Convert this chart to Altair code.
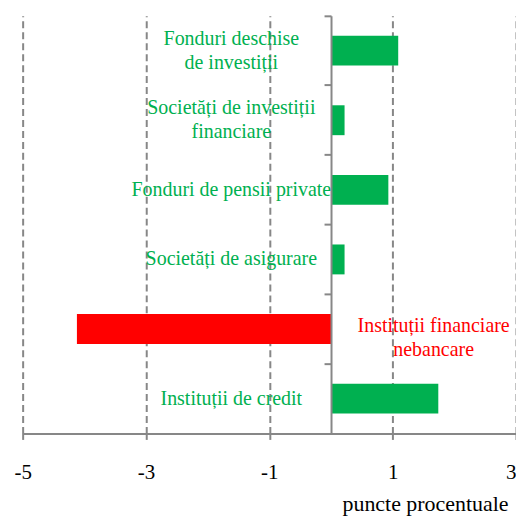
import altair as alt
import pandas as pd

categories = [
    "Fonduri deschise de investiții",
    "Societăți de investiții financiare",
    "Fonduri de pensii private",
    "Societăți de asigurare",
    "Instituții financiare nebancare",
    "Instituții de credit",
]
labels = [
    "Fonduri deschise\nde investiții",
    "Societăți de investiții\nfinanciare",
    "Fonduri de pensii private",
    "Societăți de asigurare",
    "Instituții financiare\nnebancare",
    "Instituții de credit",
]
values = [1.09, 0.22, 0.93, 0.22, -4.12, 1.74]
x_ticks = [-5, -3, -1, 1, 3]

df = pd.DataFrame({"categorie": categories, "eticheta": labels, "valoare": values})

GRAY = "#878787"
GREEN = "#00B050"
RED = "#FF0000"
FONT = "Liberation Serif"
LABEL_SIZE = 20

x_enc = alt.X(
    "valoare:Q",
    scale=alt.Scale(domain=[-5, 3], nice=False, zero=False),
    axis=alt.Axis(
        values=x_ticks,
        labelExpr="'' + datum.value",
        labelFlush=False,
        labelAlign={"condition": {"test": "datum.value == 3", "value": "right"}, "value": "center"},
        grid=True,
        gridDash=[7, 4],
        gridColor=GRAY,
        gridWidth=2,
        domainColor=GRAY,
        domainWidth=2,
        tickColor=GRAY,
        tickWidth=2,
        tickSize=6,
        labelFont=FONT,
        labelFontSize=21,
        labelColor="black",
        labelPadding=22,
        title="puncte procentuale",
        titleFont=FONT,
        titleFontSize=22,
        titleFontWeight="normal",
        titleColor="black",
        titleAlign="right",
        titleBaseline="alphabetic",
        titleX=487,
        titleY=77,
    ),
)

y_enc = alt.Y(
    "categorie:N",
    sort=categories,
    scale=alt.Scale(paddingInner=0, paddingOuter=0),
    axis=alt.Axis(
        title=None,
        labels=False,
        offset=-309.4,
        bandPosition=0,
        domainColor=GRAY,
        domainWidth=2,
        tickColor=GRAY,
        tickWidth=2,
        tickSize=7,
        grid=False,
        zindex=1,
    ),
)

y_text = alt.Y("categorie:N", sort=categories)
two_lines = "indexof(datum.eticheta, '\\n') >= 0"

base = alt.Chart(df)

bars = base.mark_bar(size=30).encode(
    x=x_enc,
    y=y_enc,
    color=alt.condition(alt.datum.valoare < 0, alt.value(RED), alt.value(GREEN)),
)

text_style = dict(align="center", baseline="middle", font=FONT, fontSize=LABEL_SIZE,
                  lineBreak="\n", lineHeight=24)

pos_one = base.transform_filter(
    f"datum.valoare >= 0 && !({two_lines})"
).mark_text(dx=-100, dy=0, color=GREEN, **text_style).encode(
    x=alt.datum(0), y=y_text, text="eticheta:N")

pos_two = base.transform_filter(
    f"datum.valoare >= 0 && ({two_lines})"
).mark_text(dx=-100, dy=-12, color=GREEN, **text_style).encode(
    x=alt.datum(0), y=y_text, text="eticheta:N")

neg_text = base.transform_filter("datum.valoare < 0").mark_text(
    dx=103, dy=-3, color=RED, **text_style
).encode(x=alt.datum(0), y=y_text, text="eticheta:N")

chart = (
    alt.layer(bars, pos_one, pos_two, neg_text)
    .properties(
        width=495,
        height=419,
        autosize=alt.AutoSizeParams(type="none"),
        padding={"left": 14.7, "top": 7, "right": 0, "bottom": 83},
    )
    .configure_view(stroke=None)
)

chart.save("out.html", embed_options={"renderer": "svg", "actions": False})
